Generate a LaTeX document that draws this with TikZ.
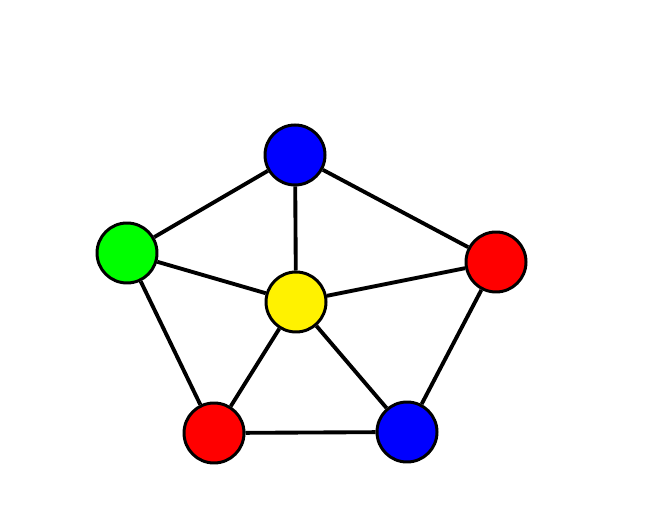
\documentclass[tikz,border=0pt]{standalone}
\usepackage{tikz}
\usetikzlibrary{calc}

\begin{document}
\begin{tikzpicture}[
		vertex/.style={circle, draw=black, line width=1.7pt, minimum size=1.2cm, inner sep=0pt},
		edge/.style={line width=2.2pt}
	]

		% frame %
		\useasboundingbox (0,0) rectangle (13.32,10.54);

		% vertices %
		\node[vertex, fill=blue] (top) at (5.90,7.44) {};
		\node[vertex, fill=green] (left) at (2.54,5.48) {};
		\node[vertex, fill=red] (right) at (9.92,5.30) {};
		\node[vertex, fill=yellow] (mid) at (5.92,4.50) {};
		\node[vertex, fill=red] (botleft) at (4.28,1.88) {};
		\node[vertex, fill=blue] (botright) at (8.14,1.90) {};

		% outer cycle %
		\draw[edge] (top) -- (left);
		\draw[edge] (top) -- (right);
		\draw[edge] (left) -- (botleft);
		\draw[edge] (botleft) -- (botright);
		\draw[edge] (botright) -- (right);

		% spokes %
		\draw[edge] (mid) -- (top);
		\draw[edge] (mid) -- (left);
		\draw[edge] (mid) -- (right);
		\draw[edge] (mid) -- (botleft);
		\draw[edge] (mid) -- (botright);

	\end{tikzpicture}
\end{document}
